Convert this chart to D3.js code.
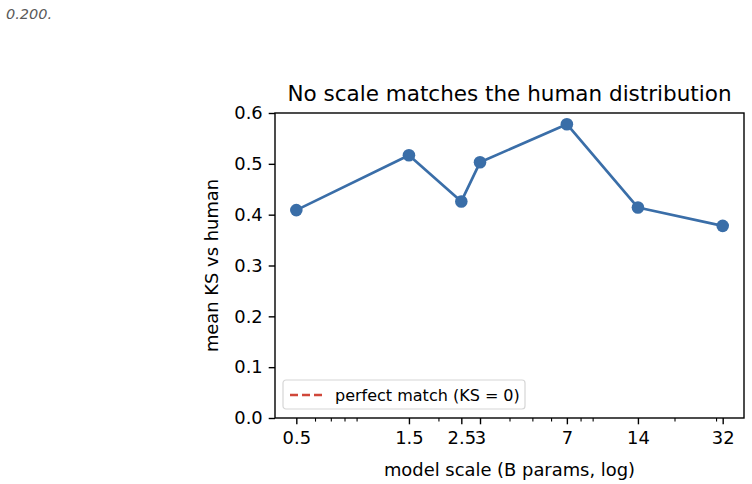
<!DOCTYPE html>
<html>
<head>
<meta charset="utf-8">
<script src="https://cdn.jsdelivr.net/npm/d3@7"></script>
<style>
  body { margin: 0; background: #fff; }
  svg text { font-family: "DejaVu Sans", sans-serif; fill: #000; }
  .note { font-family: "DejaVu Sans", sans-serif; font-style: italic; fill: #5a5a5a; }
</style>
</head>
<body>
<div id="chart"></div>
<script>
"use strict";

// data
const scales = [0.5, 1.5, 2.5, 3, 7, 14, 32];
const ksMean = [0.409, 0.517, 0.426, 0.503, 0.578, 0.414, 0.378];
const xTickValues = [0.5, 1.5, 2.5, 3, 7, 14, 32];
const xMinorTicks = [0.6, 0.7, 0.8, 0.9, 2, 4, 5, 6, 8, 9, 20, 30];
const yTickValues = [0, 0.1, 0.2, 0.3, 0.4, 0.5, 0.6];
const legendLabel = 'perfect match (KS = 0)';

const W = 752, H = 484;
const plot = { left: 275, right: 744, top: 113, bottom: 418 };
const blue = '#3a6ea8';

const svg = d3.select('#chart').append('svg')
  .attr('width', W)
  .attr('height', H);

svg.append('text')
  .attr('class', 'note')
  .attr('x', 6)
  .attr('y', 19)
  .style('font-size', '14.5px')
  .text('0.200.');

// log x with 5% margins like matplotlib
const lo = Math.log10(d3.min(scales)), hi = Math.log10(d3.max(scales));
const pad = (hi - lo) * 0.05;
const x = d3.scaleLog()
  .domain([Math.pow(10, lo - pad), Math.pow(10, hi + pad)])
  .range([plot.left, plot.right]);
const y = d3.scaleLinear()
  .domain([0, 0.6])
  .range([plot.bottom, plot.top]);

// x axis
const xAxis = d3.axisBottom(x)
  .tickValues(xTickValues)
  .tickFormat(function(d) { return String(d); })
  .tickSize(6.3)
  .tickPadding(7);
const gx = svg.append('g')
  .attr('transform', `translate(0, ${plot.bottom})`)
  .call(xAxis);
gx.select('.domain').remove();
gx.selectAll('.tick line').attr('stroke', '#000').attr('stroke-width', 1.4);
gx.selectAll('.tick text')
  .attr('font-family', null)
  .style('font-size', '17.9px')
  .attr('dy', '0.71em');

const gxMinor = svg.append('g')
  .attr('transform', `translate(0, ${plot.bottom})`)
  .call(d3.axisBottom(x).tickValues(xMinorTicks).tickFormat('').tickSize(3.6));
gxMinor.select('.domain').remove();
gxMinor.selectAll('.tick line').attr('stroke', '#000').attr('stroke-width', 1.1);

// y axis
const yAxis = d3.axisLeft(y)
  .tickValues(yTickValues)
  .tickFormat(d3.format('.1f'))
  .tickSize(6.3)
  .tickPadding(6);
const gy = svg.append('g')
  .attr('transform', `translate(${plot.left}, 0)`)
  .call(yAxis);
gy.select('.domain').remove();
gy.selectAll('.tick line').attr('stroke', '#000').attr('stroke-width', 1.4);
gy.selectAll('.tick text')
  .attr('font-family', null)
  .style('font-size', '17.9px');

// spines
svg.append('rect')
  .attr('x', plot.left)
  .attr('y', plot.top)
  .attr('width', plot.right - plot.left)
  .attr('height', plot.bottom - plot.top)
  .attr('fill', 'none')
  .attr('stroke', '#000')
  .attr('stroke-width', 1.4);

// series
const pts = scales.map(function(s, i) { return { s: s, v: ksMean[i] }; });
const line = d3.line()
  .x(function(d) { return x(d.s); })
  .y(function(d) { return y(d.v); });

svg.append('path')
  .datum(pts)
  .attr('d', line)
  .attr('fill', 'none')
  .attr('stroke', blue)
  .attr('stroke-width', 2.7)
  .attr('stroke-linejoin', 'round');

svg.selectAll('circle.pt')
  .data(pts)
  .enter().append('circle')
  .attr('class', 'pt')
  .attr('cx', function(d) { return x(d.s); })
  .attr('cy', function(d) { return y(d.v); })
  .attr('r', 6.3)
  .attr('fill', blue);

// legend
const lg = svg.append('g').attr('transform', 'translate(283, 380)');
lg.append('rect')
  .attr('width', 242)
  .attr('height', 29)
  .attr('rx', 3)
  .attr('fill', '#fff')
  .attr('fill-opacity', 0.8)
  .attr('stroke', '#d6d6d6')
  .attr('stroke-width', 1.2);
lg.append('line')
  .attr('x1', 7).attr('x2', 39)
  .attr('y1', 15).attr('y2', 15)
  .attr('stroke', '#d0473a')
  .attr('stroke-width', 2.4)
  .attr('stroke-dasharray', '8,4');
lg.append('text')
  .attr('x', 52)
  .attr('y', 21)
  .style('font-size', '16px')
  .text(legendLabel);

// titles
svg.append('text')
  .attr('x', (plot.left + plot.right) / 2)
  .attr('y', 101)
  .attr('text-anchor', 'middle')
  .style('font-size', '21.5px')
  .text('No scale matches the human distribution');

svg.append('text')
  .attr('x', (plot.left + plot.right) / 2)
  .attr('y', 476)
  .attr('text-anchor', 'middle')
  .style('font-size', '17.9px')
  .text('model scale (B params, log)');

svg.append('text')
  .attr('transform', `translate(218, ${(plot.top + plot.bottom) / 2}) rotate(-90)`)
  .attr('text-anchor', 'middle')
  .style('font-size', '17.9px')
  .text('mean KS vs human');
</script>
</body>
</html>
